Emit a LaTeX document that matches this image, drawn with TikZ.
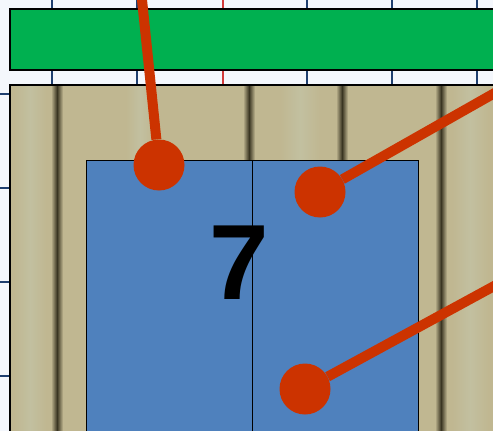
\documentclass[tikz,border=0pt]{standalone}
\usepackage{fontspec}
\setmainfont{Liberation Sans}
\usepackage{tikz}
\usepackage{xcolor}
\usetikzlibrary{positioning}
\definecolor{gridbg}{HTML}{F4F7FC}
\definecolor{gridline}{HTML}{1F3F6F}
\definecolor{gridred}{HTML}{D23A3A}
\definecolor{bannergreen}{HTML}{00B050}
\definecolor{woodbase}{HTML}{C0B791}
\definecolor{woodlight}{HTML}{C2C0A0}
\definecolor{wooddark}{HTML}{3A3522}
\definecolor{doorblue}{HTML}{4F81BD}
\definecolor{callout}{HTML}{CC3300}
\tikzset{
  leaf/.style={
    draw, line width=1.4pt, fill=doorblue,
    rectangle, inner sep=0pt, anchor=north west,
    minimum width=166pt, minimum height=310pt
  },
  pin/.style={circle, fill=callout, inner sep=0pt, minimum size=51pt},
  pinline/.style={draw=callout, line width=10pt},
  gridrule/.style={draw=gridline, line width=2pt},
  groove/.style={left color=woodbase, right color=woodbase, middle color=wooddark},
  sheen/.style={left color=woodbase, right color=woodbase, middle color=woodlight},
}
\newcommand{\bigdigit}{\fontsize{107}{107}\selectfont\bfseries}

\begin{document}
\begin{tikzpicture}[x=1pt, y=-1pt]
  \useasboundingbox (0,0) rectangle (493,431);
  \clip (0,0) rectangle (493,431);
  \fill[gridbg] (0,0) rectangle (493,431);
  \foreach \gx in {52,137,307,392,477}
    \draw[gridrule] (\gx,0) -- (\gx,431);
  \draw[draw=gridred, line width=2pt] (223,0) -- (223,431);
  \foreach \gy in {94,188,282,376}
    \draw[gridrule] (0,\gy) -- (493,\gy);

  \fill[bannergreen, draw=black, line width=1.4pt] (10,9) rectangle (510,70);

  \fill[woodbase] (10,85) rectangle (510,440);
  \foreach \sx/\sw in {30/16,140/14,300/20,470/18}
    \shade[sheen] (\sx-\sw,85) rectangle (\sx+\sw,440);
  \foreach \sx in {57,249,342,441}
    \shade[groove] (\sx-6,85) rectangle (\sx+6,440);
  \draw[line width=1.2pt] (10,85) rectangle (510,440);

  \node[leaf] (leftleaf)  at (86,160)  {};
  \node[leaf] (rightleaf) at (252,160) {};
  \node[font=\bigdigit, inner sep=0pt] (seven) at (239,263) {7};

  \node[pin] (pinA) at (159,165) {};
  \node[pin] (pinB) at (320,192) {};
  \node[pin] (pinC) at (305,389) {};
  \coordinate (endA) at (141,-10);
  \coordinate (endB) at (553,60);
  \coordinate (endC) at (553,254);

  \draw[pinline] (pinA) -- (endA);
  \draw[pinline] (pinB) -- (endB);
  \draw[pinline] (pinC) -- (endC);
\end{tikzpicture}
\end{document}
